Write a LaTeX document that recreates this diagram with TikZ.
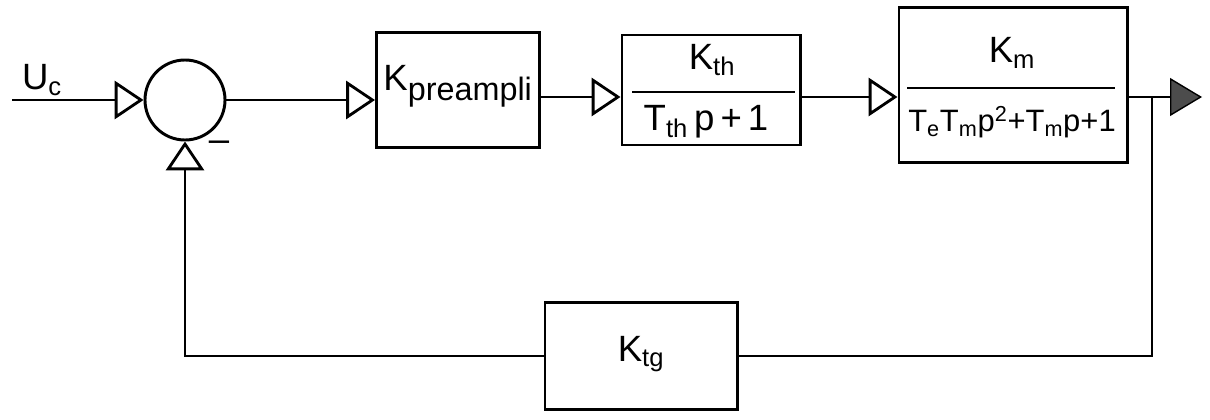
\documentclass[tikz,border=0pt]{standalone}
\usepackage{fontspec}
\setmainfont{Liberation Sans}
\usetikzlibrary{arrows.meta}
\begin{document}
\begin{tikzpicture}[x=0.025cm,y=-0.025cm,
  line width=2.1pt,
  every node/.style={font=\fontsize{26}{30}\selectfont},
  block/.style={draw,rectangle,inner sep=0pt},
  sumpoint/.style={draw,circle,minimum size=2cm,inner sep=0pt},
  sig/.style={-{Triangle[open,length=0.72cm,width=0.95cm,line width=2pt]}},
  outsig/.style={-{Triangle[length=0.8cm,width=0.95cm,fill=black!70,line width=1pt]}},
  frac/.style={line width=2pt}]
\useasboundingbox (0,0) rectangle (1210,420);

% summing junction and forward blocks
\node[sumpoint] (sum) at (185,100) {};
\node[block,minimum width=4.075cm,minimum height=2.875cm] (pre) at (458,90) {};
\node[block,minimum width=4.45cm,minimum height=2.75cm] (th) at (711,90) {};
\node[block,minimum width=5.7cm,minimum height=3.875cm] (km) at (1013,85) {};
\node[block,minimum width=4.8cm,minimum height=2.675cm] (tg) at (641,356) {};

% block contents
\node[anchor=west,inner sep=0pt] (pretext) at (382,86) {K\raisebox{-0.5ex}{\fontsize{23}{26}\selectfont preampli}};
\node (thnum) at (712,60) {K\textsubscript{th}};
\node (thden) at (706,122) {T\textsubscript{th}\,p\,+\,1};
\draw[frac] (632,92) -- (795,92);
\node (kmnum) at (1012,53) {K\textsubscript{m}};
\node[font=\fontsize{22}{26}\selectfont] (kmden) at (1012,122) {T\textsubscript{e}T\textsubscript{m}p\textsuperscript{2}+T\textsubscript{m}p+1};
\draw[frac] (907,88) -- (1115,88);
\node (tgtext) at (641,354) {K\textsubscript{tg}};

% signal labels
\node (uc) at (42,80) {U\textsubscript{c}};
\node (minus) at (219,146) {--};

% forward path
\coordinate (input) at (12,100);
\coordinate (output) at (1202,97);
\coordinate (branch) at (1152,97);
\draw[sig] (input) -- (sum.west);
\draw[sig] (sum.east) -- (sum.east -| pre.west);
\draw[sig] (pre.east |- 0,97) -- (th.west |- 0,97);
\draw[sig] (th.east |- 0,97) -- (km.west |- 0,97);
\draw[outsig] (km.east |- 0,97) -- (output);

% feedback path
\draw (branch) |- (tg.east);
\draw[sig] (tg.west) -| (sum.south);
\end{tikzpicture}
\end{document}
